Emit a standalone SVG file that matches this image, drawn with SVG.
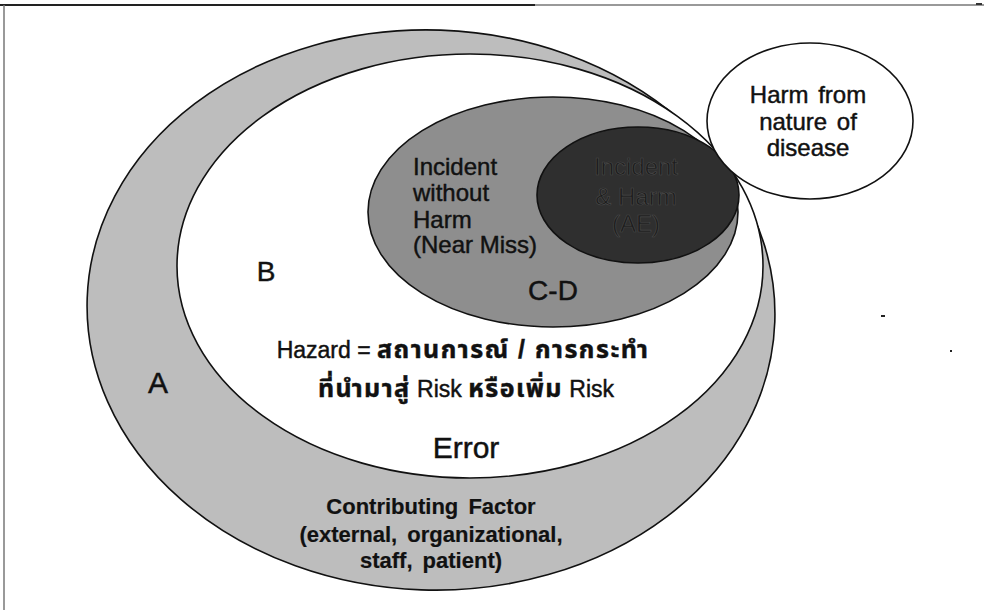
<svg xmlns="http://www.w3.org/2000/svg" width="984" height="610" viewBox="0 0 984 610">
<style>
.ol{stroke:#111;stroke-width:1.6}
.t{font-family:"Liberation Sans","Noto Sans","Noto Sans Thai",sans-serif;fill:#111;stroke:#111;stroke-width:0.45}
.b{font-weight:bold}
.c{text-anchor:middle}
.th{font-size:25px;letter-spacing:1.5px}
</style>
<rect x="0" y="0" width="984" height="610" fill="#fff"/>
<g id="frame">
<line x1="0" y1="5" x2="535" y2="5" stroke="#222" stroke-width="2"/>
<line x1="535" y1="5" x2="984" y2="5" stroke="#777" stroke-width="1.5"/>
<line x1="4" y1="5" x2="4" y2="610" stroke="#777" stroke-width="1.5"/>
<line x1="976" y1="4" x2="982" y2="4" stroke="#333" stroke-width="2"/>
</g>
<g id="node-A">
<ellipse cx="431" cy="310" rx="344" ry="280" fill="#bdbdbd" class="ol" transform="rotate(2 431 310)"/>
<text class="t" x="158" y="393" font-size="30" text-anchor="middle">A</text>
</g>
<g id="node-B">
<ellipse cx="470" cy="266" rx="293" ry="212" fill="#fff" class="ol"/>
<text class="t" x="266" y="281" font-size="28" text-anchor="middle">B</text>
</g>
<g id="node-CD">
<ellipse cx="553" cy="212" rx="185" ry="115" fill="#8e8e8e" class="ol"/>
<text class="t" font-size="24"><tspan x="413" y="175">Incident</tspan><tspan x="413" y="201">without</tspan><tspan x="413" y="228">Harm</tspan><tspan x="413" y="253">(Near Miss)</tspan></text>
<text class="t c" x="553" y="300" font-size="28">C-D</text>
</g>
<g id="node-AE">
<ellipse cx="638" cy="195" rx="101" ry="68" fill="#2f2f2f" class="ol"/>
<text class="t c" font-size="24" style="fill:#1c1c1c;stroke:#4a4a4a;stroke-width:0.6"><tspan x="636" y="175">Incident</tspan><tspan x="636" y="205">&amp; Harm</tspan><tspan x="636" y="232">(AE)</tspan></text>
</g>
<g id="node-harm">
<ellipse cx="810" cy="121" rx="103" ry="78" fill="#fff" class="ol"/>
<text class="t c" font-size="24" word-spacing="3"><tspan x="808" y="103">Harm from</tspan><tspan x="808" y="130">nature of</tspan><tspan x="808" y="156">disease</tspan></text>
</g>
<g id="hazard">
<text class="t c" x="463" y="358" font-size="23">Hazard = <tspan class="b th">สถานการณ์ / การกระทำ</tspan></text>
<text class="t c" x="466" y="397" font-size="23"><tspan class="b th">ที่นำมาสู่</tspan> Risk <tspan class="b th">หรือเพิ่ม</tspan> Risk</text>
</g>
<g id="error">
<text class="t c" x="466" y="458" font-size="30">Error</text>
</g>
<g id="contributing">
<text class="t b c" font-size="22" word-spacing="4" style="stroke-width:0.2"><tspan x="431" y="514">Contributing Factor</tspan><tspan x="431" y="542">(external, organizational,</tspan><tspan x="431" y="568">staff, patient)</tspan></text>
</g>
<g id="connectors"></g>
<g id="specks" fill="#222">
<rect x="881" y="315" width="4" height="2"/>
<rect x="950" y="350" width="2" height="2"/>
</g>
</svg>
